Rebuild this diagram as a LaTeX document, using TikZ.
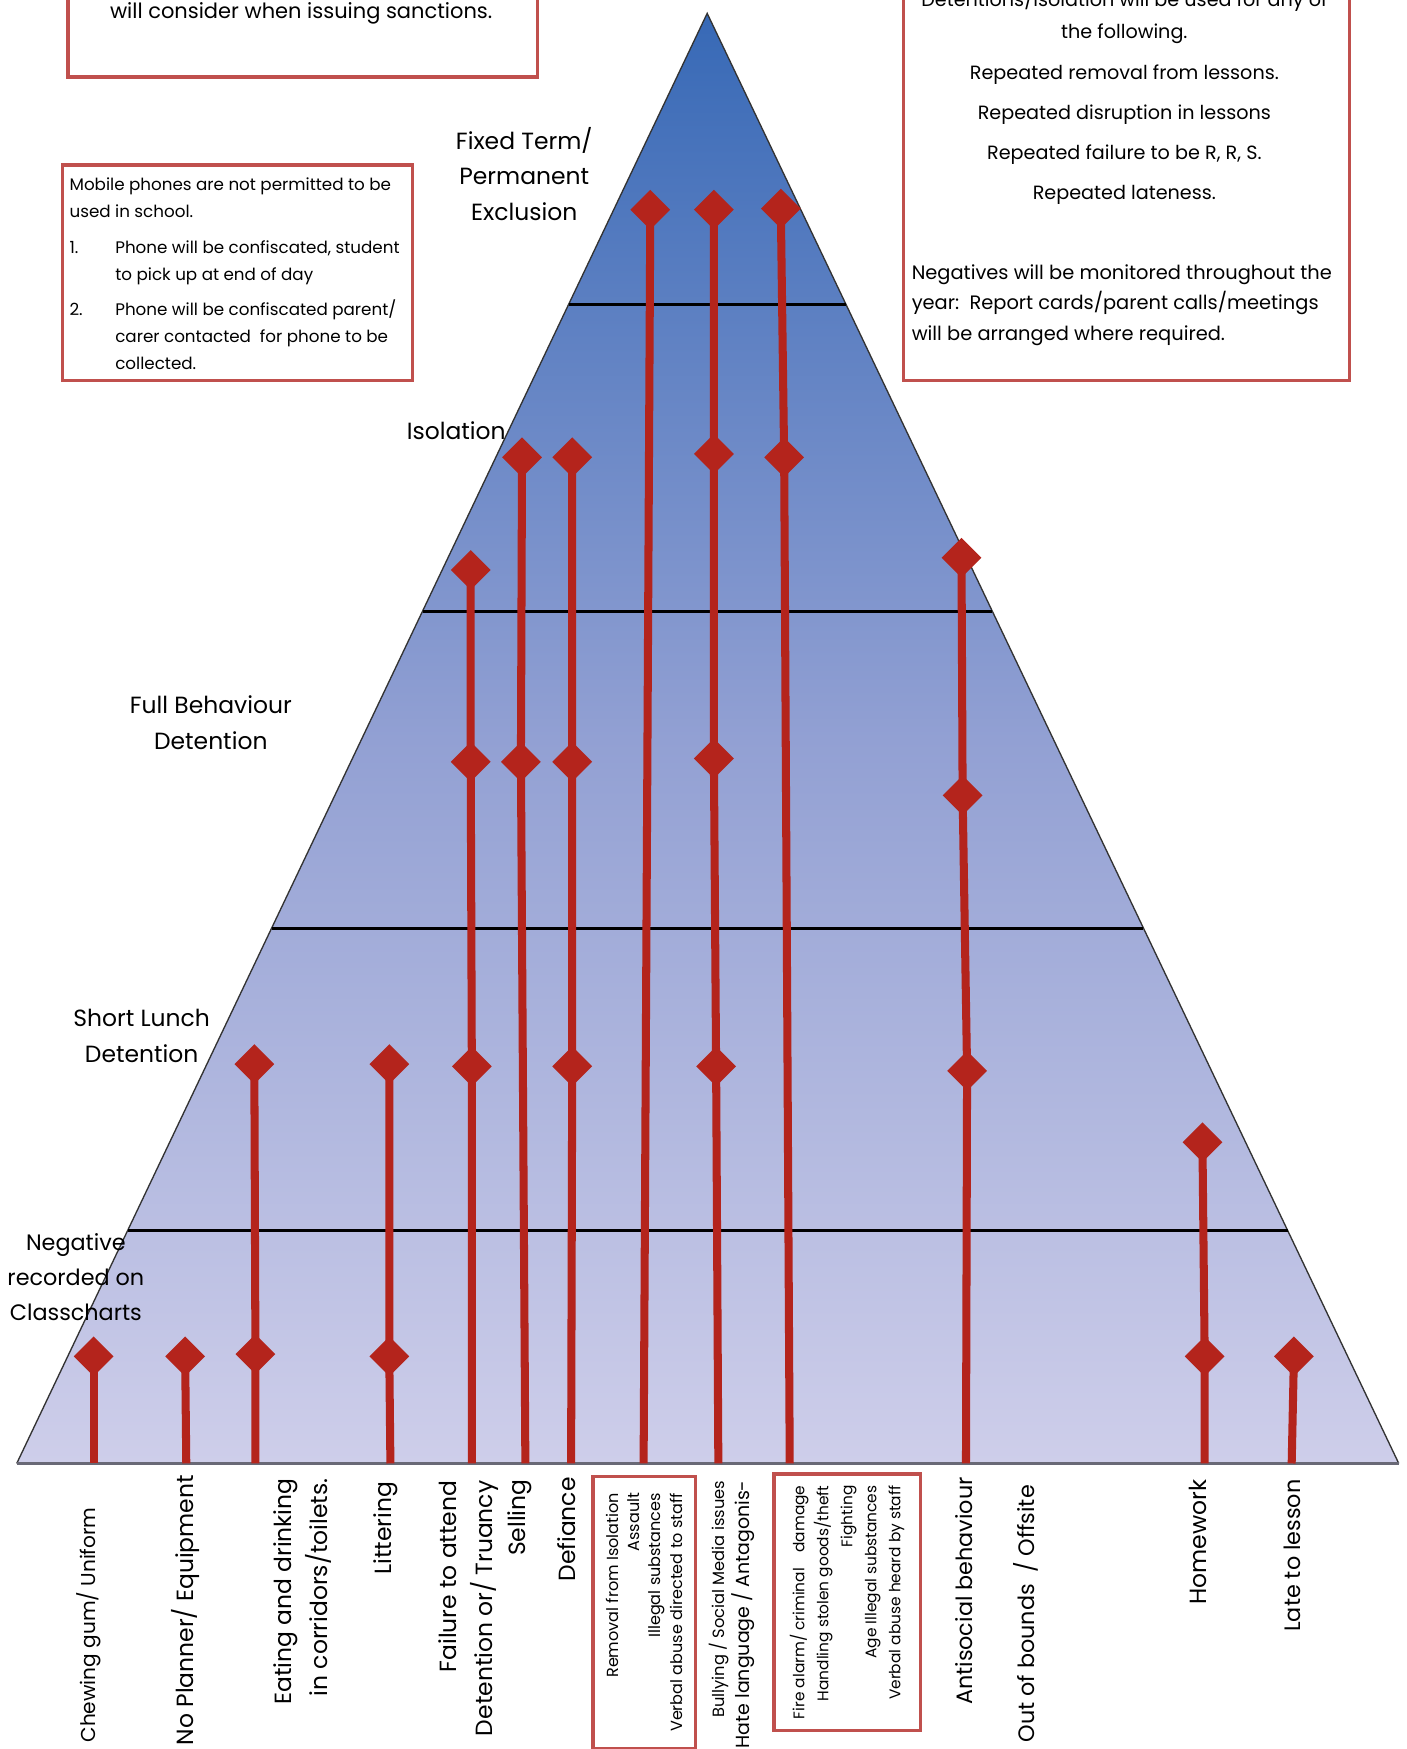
\documentclass[tikz,border=0pt]{standalone}
\usepackage{fontspec}
\setmainfont{Poppins}
\usetikzlibrary{calc}
\usetikzlibrary{shapes.geometric}
\usetikzlibrary{backgrounds}

\definecolor{flagred}{RGB}{180,36,28}
\definecolor{boxred}{RGB}{192,80,77}
\definecolor{pyrtop}{RGB}{55,105,182}
\definecolor{pyrmid}{RGB}{146,160,211}
\definecolor{pyrbot}{RGB}{206,206,234}
\definecolor{basegray}{RGB}{105,105,118}

\begin{document}
\begin{tikzpicture}[x=0.5pt,y=-0.5pt,
    flag/.style={diamond,fill=flagred,inner sep=0pt,minimum width=18pt,minimum height=18pt},
    sanction/.style={draw=flagred,line width=3.6pt},
    level/.style={align=center,inner sep=0pt,font=\fontsize{10.5}{16}\selectfont},
    offence/.style={rotate=90,anchor=east,align=right,inner sep=0pt,font=\fontsize{10.5}{16}\selectfont},
    notebox/.style={draw=boxred,line width=1.5pt,inner sep=0pt},
    note/.style={inner sep=0pt},
    divider/.style={draw=black,line width=1.3pt}]
  \useasboundingbox (0,0) rectangle (1261,1568);

  % pyramid corners
  \coordinate (apex) at (634,12);
  \coordinate (baseL) at (15,1312);
  \coordinate (baseR) at (1254,1312);

  % sanction levels
  \node[level] (exclusion) at (470,156) {Fixed Term/\\Permanent\\Exclusion};
  \node[level] (isolation) at (409,386) {Isolation};
  \node[level] (fullDet) at (189,648) {Full Behaviour\\Detention};
  \node[level] (shortDet) at (127,929) {Short Lunch\\Detention};
  \node[level,font=\fontsize{10}{15.75}\selectfont] (negative) at (68,1145) {Negative\\recorded on\\Classcharts};

  % notes
  \node[notebox,minimum width=210.5pt,minimum height=70pt] (policy) at (271.5,-1) {};
  \node[note,font=\fontsize{9.4}{12}\selectfont] (policyText) at (270,12) {will consider when issuing sanctions.};
  \node[notebox,minimum width=157pt,minimum height=96.5pt] (phones) at (213,244.5) {};
  \node[note,anchor=west,align=left,font=\fontsize{7.5}{12}\selectfont] (phonesText) at (62,245.5)
    {Mobile phones are not permitted to be\\used in school.\\[4pt]
     \makebox[20.5pt][l]{1.}Phone will be confiscated, student\\\hspace*{20.5pt}to pick up at end of day\\[4pt]
     \makebox[20.5pt][l]{2.}Phone will be confiscated parent/\\\hspace*{20.5pt}carer contacted\ \ for phone to be\\\hspace*{20.5pt}collected.};
  \node[notebox,minimum width=200pt,minimum height=192pt] (rules) at (1010,149) {};
  \node[note,align=center,font=\fontsize{8.6}{14.5}\selectfont] (rulesText) at (1008,86.5)
    {Detentions/Isolation will be used for any of\\the following.\\[3.5pt]
     Repeated removal from lessons.\\[3.5pt]Repeated disruption in lessons\\[3.5pt]
     Repeated failure to be R, R, S.\\[3.5pt]Repeated lateness.};
  \node[note,anchor=west,align=left,font=\fontsize{8.7}{13.75}\selectfont] (monitorText) at (817,273.5)
    {Negatives will be monitored throughout the\\year:\ \ Report cards/parent calls/meetings\\will be arranged where required.};

  % behaviours
  \node[offence,font=\fontsize{9}{16}\selectfont] (gumT) at (80,1351) {Chewing gum/ Uniform};
  \node[offence] (plannerT) at (166,1322) {No Planner/ Equipment};
  \node[offence] (eatingT) at (271,1325) {Eating and drinking\\in corridors/toilets.};
  \node[offence] (litterT) at (346,1328) {Littering};
  \node[offence] (failureT) at (420,1327) {Failure to attend\\Detention or/ Truancy};
  \node[offence] (sellingT) at (466,1326) {Selling};
  \node[offence] (defianceT) at (508,1324) {Defiance};
  \node[offence,notebox,minimum width=122pt,minimum height=46pt,font=\fontsize{7.2}{9.5}\selectfont] (removalT) at (577.5,1322)
    {Removal from Isolation\\Assault\\Illegal substances\\Verbal abuse directed to staff};
  \node[offence,font=\fontsize{8.5}{11.5}\selectfont] (bullyingT) at (656,1327)
    {{\fontsize{7.3}{11.5}\selectfont Bullying / Social Media issues}\\Hate language / Antagonis-};
  \node[offence,notebox,minimum width=115pt,minimum height=65.5pt,font=\fontsize{6.9}{10.75}\selectfont] (fireT) at (759.5,1320)
    {Fire alarm/ criminal\quad damage\\Handling stolen goods/theft\\Fighting\\Age Illegal substances\\Verbal abuse heard by staff};
  \node[offence,font=\fontsize{10}{16}\selectfont] (antisocialT) at (864,1324) {Antisocial behaviour};
  \node[offence,font=\fontsize{10}{16}\selectfont] (boundsT) at (920,1331) {Out of bounds\enspace/ Offsite};
  \node[offence] (homeworkT) at (1074,1326) {Homework};
  \node[offence,font=\fontsize{10}{16}\selectfont] (lateT) at (1159,1326) {Late to lesson};

  % flags
  \node[flag] (gumN) at (84,1216) {};
  \node[flag] (plannerN) at (166,1216) {};
  \node[flag] (eatingL) at (228,954) {};
  \node[flag] (eatingN) at (229,1214) {};
  \node[flag] (litterL) at (349,954) {};
  \node[flag] (litterN) at (349,1216) {};
  \node[flag] (failureI) at (422,511) {};
  \node[flag] (failureF) at (422,683) {};
  \node[flag] (failureL) at (423,956) {};
  \node[flag] (sellingI) at (468,410) {};
  \node[flag] (sellingF) at (467,683) {};
  \node[flag] (defianceI) at (513,410) {};
  \node[flag] (defianceF) at (513,683) {};
  \node[flag] (defianceL) at (513,956) {};
  \node[flag] (removalX) at (583,188) {};
  \node[flag] (bullyingX) at (640,188) {};
  \node[flag] (bullyingI) at (640,407) {};
  \node[flag] (bullyingF) at (640,680) {};
  \node[flag] (bullyingL) at (642,956) {};
  \node[flag] (fireX) at (700,187) {};
  \node[flag] (fireI) at (703,410) {};
  \node[flag] (antisocialI) at (862,500) {};
  \node[flag] (antisocialF) at (863,713) {};
  \node[flag] (antisocialL) at (867,960) {};
  \node[flag] (homeworkL) at (1078,1024) {};
  \node[flag] (homeworkN) at (1080,1216) {};
  \node[flag] (lateN) at (1160,1216) {};

  % line feet on the base
  \coordinate (gumB) at (84,1312);
  \coordinate (plannerB) at (167,1312);
  \coordinate (eatingB) at (229,1312);
  \coordinate (litterB) at (350,1312);
  \coordinate (failureB) at (423,1312);
  \coordinate (sellingB) at (471,1312);
  \coordinate (defianceB) at (512,1312);
  \coordinate (removalB) at (577,1312);
  \coordinate (bullyingB) at (644,1312);
  \coordinate (fireB) at (708,1312);
  \coordinate (antisocialB) at (866,1312);
  \coordinate (homeworkB) at (1080,1312);
  \coordinate (lateB) at (1158,1312);

  \begin{scope}[on background layer]
    \shade[top color=pyrtop,bottom color=pyrbot,middle color=pyrmid] (apex) -- (baseL) -- (baseR) -- cycle;
    \draw[line width=0.6pt,draw=black!80] (baseL) -- (apex) -- (baseR);
    \draw[line width=1.5pt,draw=basegray] (baseL) -- (baseR);
    \draw[divider] ($(apex)!0.2008!(baseL)$) -- ($(apex)!0.2008!(baseR)$);
    \draw[divider] ($(apex)!0.4123!(baseL)$) -- ($(apex)!0.4123!(baseR)$);
    \draw[divider] ($(apex)!0.6308!(baseL)$) -- ($(apex)!0.6308!(baseR)$);
    \draw[divider] ($(apex)!0.8392!(baseL)$) -- ($(apex)!0.8392!(baseR)$);

    \draw[sanction] (gumN.center) -- (gumB);
    \draw[sanction] (plannerN.center) -- (plannerB);
    \draw[sanction] (eatingL.center) -- (eatingN.center) -- (eatingB);
    \draw[sanction] (litterL.center) -- (litterN.center) -- (litterB);
    \draw[sanction] (failureI.center) -- (failureF.center) -- (failureL.center) -- (failureB);
    \draw[sanction] (sellingI.center) -- (sellingF.center) -- (sellingB);
    \draw[sanction] (defianceI.center) -- (defianceF.center) -- (defianceL.center) -- (defianceB);
    \draw[sanction] (removalX.center) -- (removalB);
    \draw[sanction] (bullyingX.center) -- (bullyingI.center) -- (bullyingF.center) -- (bullyingL.center) -- (bullyingB);
    \draw[sanction] (fireX.center) -- (fireI.center) -- (fireB);
    \draw[sanction] (antisocialI.center) -- (antisocialF.center) -- (antisocialL.center) -- (antisocialB);
    \draw[sanction] (homeworkL.center) -- (homeworkN.center) -- (homeworkB);
    \draw[sanction] (lateN.center) -- (lateB);
  \end{scope}
\end{tikzpicture}
\end{document}
